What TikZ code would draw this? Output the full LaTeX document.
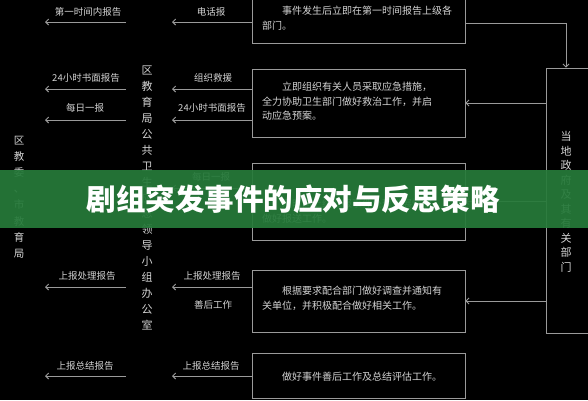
\documentclass[tikz,border=0pt]{standalone}
\usepackage{fontspec}
\newfontfamily\cjk{Noto Sans CJK SC}
\usetikzlibrary{arrows.meta}
\definecolor{lncol}{HTML}{9A9A9A}
\definecolor{txcol}{HTML}{D4D4D4}
\definecolor{bannercol}{RGB}{38,122,58}
\begin{document}
\begin{tikzpicture}[x=1pt,y=-1pt,
  lnstyle/.style={draw=lncol, line width=0.9pt},
  arr/.style={lnstyle, -{Straight Barb[length=3pt,width=6pt]}},
  lbl/.style={text=txcol, font=\cjk\fontsize{9.5}{10}\selectfont, inner sep=0pt},
  para/.style={text=txcol, font=\cjk\fontsize{10}{14.5}\selectfont, align=left, inner sep=0pt, anchor=north west},
  vtxt/.style={text=txcol, align=center, inner sep=0pt},
  boxs/.style={lnstyle, inner sep=0pt, minimum width=213pt},
]
\fill[black] (0,0) rectangle (588,400);
\useasboundingbox (0,0) rectangle (588,400);
\begin{scope}
\clip (0,0) rectangle (588,400);
% vertical column lines
\coordinate (vA) at (45,-5);
\coordinate (vB) at (126,-5);
\coordinate (vC) at (172,-5);
\draw[lnstyle] (vA) -- ++(0,-410);
\draw[lnstyle] (vB) -- ++(0,-410);
\draw[lnstyle] (vC) -- ++(0,-410);

% left vertical text
\node[vtxt, font=\cjk\fontsize{10.5}{16.2}\selectfont] (left) at (19,197) {区\\教\\委\\、\\市\\教\\育\\局};
% middle vertical text
\node[vtxt, font=\cjk\fontsize{11}{15.9}\selectfont] (mid) at (147,198) {区\\教\\育\\局\\公\\共\\卫\\生\\应\\急\\领\\导\\小\\组\\办\\公\\室};

% boxes in column 5
\node[boxs, minimum height=53pt] (b1) at (358.5,16.5) {};
\node[boxs, minimum height=68pt] (b2) at (358.5,103) {};
\node[boxs, minimum height=77pt] (b3) at (358.5,201.5) {};
\node[boxs, minimum height=62pt] (b4) at (358.5,301) {};
\node[boxs, minimum height=45pt] (b5) at (358.5,375.5) {};
% right box
\node[lnstyle, inner sep=0pt, minimum width=54pt, minimum height=265pt] (R) at (573,200.5) {};
\node[vtxt, font=\cjk\fontsize{11}{14.5}\selectfont] (rtxt) at (566,202) {当\\地\\政\\府\\及\\其\\有\\关\\部\\门};

% box texts
\node[para] (t1) at (262,6) {\hspace*{2em}事件发生后立即在第一时间报告上级各\\部门。};
\node[para] (t2) at (262,82) {\hspace*{2em}立即组织有关人员采取应急措施，\\全力协助卫生部门做好救治工作，并启\\动应急预案。};
\node[para] (t3) at (262,199) {\hspace*{2em}及时向上级汇报事件处理进展情况，\\做好报送工作。};
\node[para] (t4) at (262,286) {\hspace*{2em}根据要求配合部门做好调查并通知有\\关单位，并积极配合做好相关工作。};
\node[para] (t5) at (262,372) {\hspace*{2em}做好事件善后工作及总结评估工作。};

% column 2 labels and arrows
\node[lbl] (a1) at (88,12) {第一时间内报告};
\node[lbl] (a2) at (86,78) {24小时书面报告};
\node[lbl] (a3) at (85,108) {每日一报};
\node[lbl] (a4) at (87,276) {上报处理报告};
\node[lbl] (a5) at (85,366) {上报总结报告};
\foreach \yy in {22,89,120,287,376}{
  \draw[arr] (vB |- 0,\yy) -- (vA |- 0,\yy);
}
% column 4 labels and arrows
\node[lbl] (c1) at (211,12) {电话报};
\node[lbl] (c2) at (213,78) {组织救援};
\node[lbl] (c3) at (212,108) {24小时书面报告};
\node[lbl] (c4) at (211,177) {每日一报};
\node[lbl] (c5) at (212,276) {上报处理报告};
\node[lbl] (c6) at (213,305) {善后工作};
\node[lbl] (c7) at (211,366) {上报总结报告};
\foreach \yy in {22,89,120,188,287,376}{
  \draw[arr] (b1.west |- 0,\yy) -- (vC |- 0,\yy);
}

% connectors between boxes and right box
\draw[arr] ([yshift=-6.5pt]b1.east) -| ([xshift=-7pt]R.north);
\draw[arr] (R.west |- b2.east) -- (b2.east);
\draw[arr] (R.west |- b3.east) -- (b3.east);
\draw[arr] (R.west |- b4.east) -- (b4.east);

% banner
\fill[bannercol, opacity=0.93] (0,170) rectangle (588,228);
\node[text=white, font=\cjk\bfseries\fontsize{29.5}{32}\selectfont, inner sep=0pt] (title) at (293,199) {剧组突发事件的应对与反思策略};
\end{scope}
\end{tikzpicture}
\end{document}
